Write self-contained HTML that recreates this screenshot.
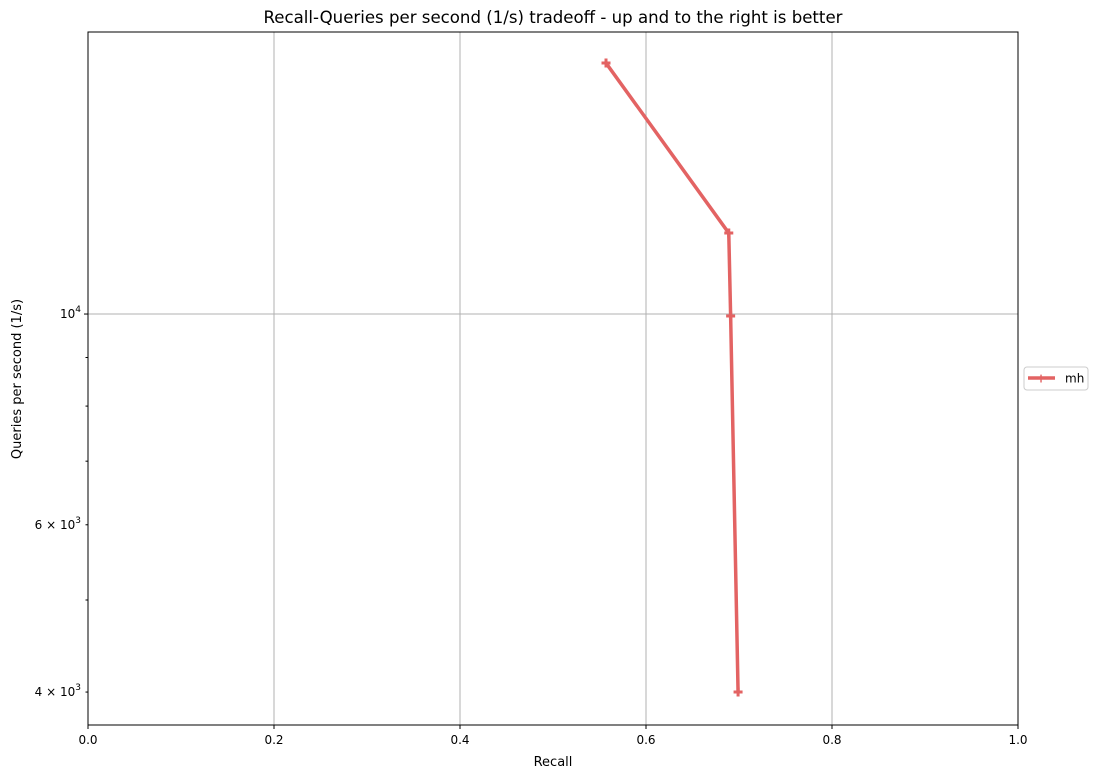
<!DOCTYPE html>
<html><head><meta charset="utf-8"><style>
body{margin:0;background:#fff;font-family:"Liberation Sans","DejaVu Sans",sans-serif}
svg text{font-family:"DejaVu Sans","Liberation Sans",sans-serif}
</style></head><body>
<svg id="chart" width="1099" height="778">
<rect x="0" y="0" width="1099" height="778" fill="#fff"/>
<g id="grid"></g>
<g id="axes"></g>
<g id="series"></g>
<text x="553" y="23" text-anchor="middle" font-size="16.6">Recall-Queries per second (1/s) tradeoff - up and to the right is better</text>
<text x="553" y="766" text-anchor="middle" font-size="13">Recall</text>
<text transform="translate(21,379) rotate(-90)" text-anchor="middle" font-size="13">Queries per second (1/s)</text>
<g>
<rect x="1024" y="367" width="64" height="23" rx="3" fill="#fff" stroke="#ccc"/>
<line x1="1028" y1="378" x2="1055" y2="378" stroke="#e36363" stroke-width="3.5"/>
<text x="1041" y="382.5" text-anchor="middle" font-size="12" font-weight="bold" fill="#e36363">+</text>
<text x="1065" y="382.5" font-size="12">mh</text>
</g>
</svg>
<script>
const xTicks=[0,0.2,0.4,0.6,0.8,1.0];
const xTickLabels=["0.0","0.2","0.4","0.6","0.8","1.0"];
const yMinor=[5000,7000,8000,9000];
const yLabeled=[4000,6000,10000];
const recall=[0.557,0.689,0.691,0.699];
const qps=[18374,12169,9952,4000];
const L=88,R=1018,T=32,B=725;
const yMinV=3693,yMaxV=19810;
function sx(v){return L+(R-L)*v;}
function sy(v){return B-(B-T)*(Math.log10(v)-Math.log10(yMinV))/(Math.log10(yMaxV)-Math.log10(yMinV));}
const NS="http://www.w3.org/2000/svg";
function mk(t,a,p){const e=document.createElementNS(NS,t);for(const k in a)e.setAttribute(k,a[k]);p.appendChild(e);return e;}
const grid=document.getElementById('grid'),axes=document.getElementById('axes'),ser=document.getElementById('series');
xTicks.forEach((v,i)=>{
 const x=sx(v);
 if(i>0&&i<xTicks.length-1){const g=mk('line',{x1:x,x2:x,y1:T,y2:B,stroke:'#b0b0b0','stroke-width':1},grid);
 
 }
 mk('line',{x1:x,x2:x,y1:B,y2:B+4,stroke:'#000'},axes);
 const t=mk('text',{x:x,y:B+19,'text-anchor':'middle','font-size':12},axes);t.textContent=xTickLabels[i];
 
 
});
yMinor.forEach(v=>{const y=sy(v);mk('line',{x1:L-2.5,x2:L,y1:y,y2:y,stroke:'#000'},axes);});
yLabeled.forEach(v=>{
 const y=sy(v);
 if(v===10000){const g=mk('line',{x1:L,x2:R,y1:y,y2:y,stroke:'#b0b0b0'},grid);
 
 }
 mk('line',{x1:L-(v===10000?4:2.5),x2:L,y1:y,y2:y,stroke:'#000'},axes);
 const t=mk('text',{x:L-7,y:y+4,'text-anchor':'end','font-size':12},axes);
 
 
 if(v===10000){t.innerHTML='10<tspan dy="-6" font-size="9">4</tspan>';}
 else{t.innerHTML=(v/1000)+' × 10<tspan dy="-6" font-size="9">3</tspan>';}
});
const fr=mk('rect',{x:L,y:T,width:R-L,height:B-T,fill:'none',stroke:'#000','stroke-width':1},axes);


const pts=recall.map((r,i)=>sx(r)+','+sy(qps[i])).join(' ');
const pl=mk('polyline',{points:pts,fill:'none',stroke:'#e36363','stroke-width':3.5,'stroke-linejoin':'round'},ser);


recall.forEach((r,i)=>{
 const x=sx(r),y=sy(qps[i]);
 const p=mk('path',{d:`M${x-4.5},${y}H${x+4.5}M${x},${y-4.5}V${y+4.5}`,stroke:'#e36363','stroke-width':3},ser);
 
 
});
</script>
</body></html>
